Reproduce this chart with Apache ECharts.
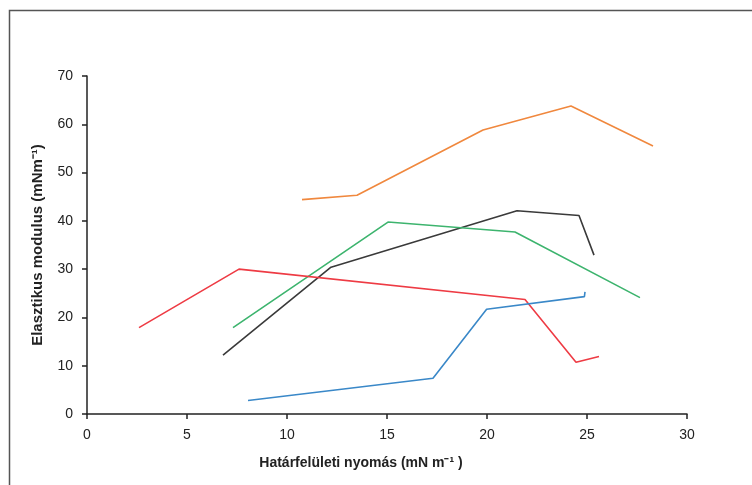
<!DOCTYPE html>
<html>
<head>
<meta charset="utf-8">
<script src="https://cdn.jsdelivr.net/npm/echarts@6/dist/echarts.min.js"></script>
<style>
html,body{margin:0;padding:0;background:#fff;}
#c{width:752px;height:485px;}
</style>
</head>
<body>
<div id="c"></div>
<script>
var xTitle = 'Határfelületi nyomás (mN m\u207B\u00B9 )';
var yTitle = 'Elasztikus modulus (mNm\u207B\u00B9)';

var orangeX = [10.75, 13.5, 19.8, 24.2, 28.3];
var orangeY = [44.4, 45.3, 58.8, 63.8, 55.5];

var blackX = [6.8, 12.2, 21.5, 24.6, 25.35];
var blackY = [12.2, 30.4, 42.1, 41.1, 32.9];

var greenX = [7.3, 15.05, 21.4, 27.65];
var greenY = [17.9, 39.75, 37.7, 24.1];

var redX = [2.6, 7.6, 21.9, 24.45, 25.6];
var redY = [17.9, 30.0, 23.7, 10.7, 11.9];

var blueX = [8.05, 17.3, 19.98, 24.87, 24.9];
var blueY = [2.8, 7.4, 21.7, 24.3, 25.3];

function pts(xs, ys){ return xs.map(function(x,i){ return [x, ys[i]]; }); }

var seriesDefs = [
  {name:'orange', x:orangeX, y:orangeY, color:'#F0883E'},
  {name:'black', x:blackX, y:blackY, color:'#3A3A3A'},
  {name:'green', x:greenX, y:greenY, color:'#3DB46E'},
  {name:'red', x:redX, y:redY, color:'#EE3B44'},
  {name:'blue', x:blueX, y:blueY, color:'#3A88C8'}
];

var chart = echarts.init(document.getElementById('c'), null, {renderer:'canvas'});
var font = "'Liberation Sans', Arial, sans-serif";
chart.setOption({
  animation:false,
  backgroundColor:'#fff',
  graphic:[{
    type:'rect', silent:true,
    shape:{x:9.5, y:10.5, width:800, height:600},
    style:{fill:'none', stroke:'#555', lineWidth:1.5}
  }],
  grid:{left:87, right:65, top:76, bottom:71, containLabel:false},
  xAxis:{
    type:'value', min:0, max:30, interval:5,
    name:xTitle, nameLocation:'middle', nameGap:42,
    nameTextStyle:{fontFamily:font, fontWeight:'bold', fontSize:14, color:'#222', padding:[0,52,0,0]},
    axisLine:{show:true, lineStyle:{color:'#222', width:1.5}},
    axisTick:{show:true, inside:false, length:5, lineStyle:{color:'#222', width:1.5}},
    axisLabel:{fontFamily:font, fontSize:14, color:'#222', margin:14},
    splitLine:{show:false}
  },
  yAxis:{
    type:'value', min:0, max:70, interval:10,
    name:yTitle, nameLocation:'middle', nameGap:42,
    nameTextStyle:{fontFamily:font, fontWeight:'bold', fontSize:15, color:'#222'},
    axisLine:{show:true, lineStyle:{color:'#222', width:1.5}},
    axisTick:{show:true, inside:false, length:5, lineStyle:{color:'#222', width:1.5}},
    axisLabel:{fontFamily:font, fontSize:14, color:'#222', margin:14},
    splitLine:{show:false}
  },
  series: seriesDefs.map(function(s){
    return {
      type:'line', name:s.name, data:pts(s.x, s.y),
      showSymbol:false, symbol:'none',
      lineStyle:{color:s.color, width:1.6},
      z:2
    };
  })
});
</script>
</body>
</html>
